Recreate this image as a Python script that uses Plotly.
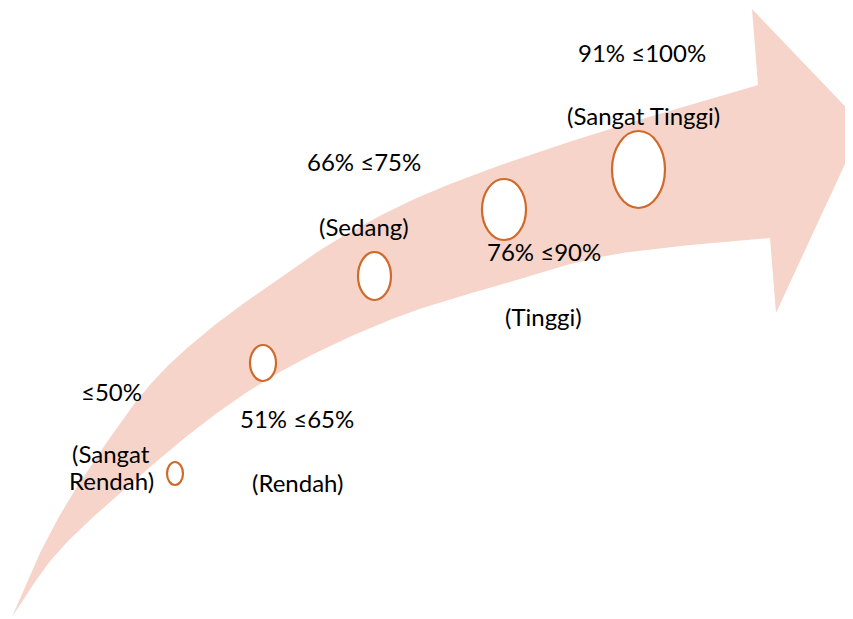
import numpy as np
import plotly.graph_objects as go

# ---- data ----
levels = ["(Sangat Rendah)", "(Rendah)", "(Sedang)", "(Tinggi)", "(Sangat Tinggi)"]
ranges = ["≤50%", "51% ≤65%", "66% ≤75%", "76% ≤90%", "91% ≤100%"]

# ---- layout geometry (pixel space of the 853x619 window) ----
W, H = 853, 619
OFF = 8  # page body margin of the browser
circ_cx = [175, 263, 374.5, 504, 638.5]
circ_cy = [473.5, 363, 276, 209.5, 169.5]
circ_w = [16, 26, 33, 44, 53]
circ_h = [23, 36, 48, 61, 77]

range_xy = [(111, 391), (297, 418), (364, 161), (544, 251), (642, 52)]
# each level label may wrap onto several lines -> list of (x, y) per line
level_lines = [[(111, 453), (111, 480)], [(297, 482)], [(364, 226)], [(543, 316)], [(643, 115)]]

upper_edge = [(12, 617), (40, 553), (77, 487), (143, 393), (200, 337), (267, 287),
              (350, 232), (450, 184), (600, 132), (758, 85)]
lower_edge = [(12, 617), (57, 553), (127, 487), (217, 413), (300, 361), (400, 316),
              (500, 285), (600, 257), (700, 244), (770, 238)]
head = [(758, 85), (752, 9), (863, 125), (776, 313), (770, 238)]


def catmull(pts, n=24):
    p = np.array(pts, dtype=float)
    p = np.vstack([2 * p[0] - p[1], p, 2 * p[-1] - p[-2]])
    out = []
    for i in range(1, len(p) - 2):
        p0, p1, p2, p3 = p[i - 1], p[i], p[i + 1], p[i + 2]
        for t in np.linspace(0, 1, n, endpoint=False):
            t2, t3 = t * t, t * t * t
            out.append(0.5 * ((2 * p1) + (-p0 + p2) * t + (2 * p0 - 5 * p1 + 4 * p2 - p3) * t2
                              + (-p0 + 3 * p1 - 3 * p2 + p3) * t3))
    out.append(p[-2])
    return np.array(out)


up = catmull(upper_edge)
lo = catmull(lower_edge)
poly = np.vstack([up, np.array(head[1:4]), lo[::-1]])

fig = go.Figure()
fig.add_trace(go.Scatter(x=poly[:, 0], y=poly[:, 1], fill="toself", mode="lines",
                         line=dict(width=0, color="#F6D4CA"), fillcolor="#F6D4CA",
                         hoverinfo="skip", showlegend=False))

shapes = []
for cx, cy, w, h in zip(circ_cx, circ_cy, circ_w, circ_h):
    shapes.append(dict(type="circle", xref="x", yref="y",
                       x0=cx - w / 2, x1=cx + w / 2, y0=cy - h / 2, y1=cy + h / 2,
                       line=dict(color="#D0692A", width=2.2), fillcolor="white"))

font = dict(family="Lato, Carlito, 'Open Sans', sans-serif", size=24, color="black")
annotations = []
for txt, (x, y) in zip(ranges, range_xy):
    annotations.append(dict(x=x, y=y, xref="x", yref="y", text=txt, showarrow=False,
                            font=font, xanchor="center", yanchor="middle"))
for txt, lines in zip(levels, level_lines):
    parts = txt.split(" ", len(lines) - 1) if len(lines) > 1 else [txt]
    for part, (x, y) in zip(parts, lines):
        annotations.append(dict(x=x, y=y, xref="x", yref="y", text=part, showarrow=False,
                                font=font, xanchor="center", yanchor="middle"))

fig.update_layout(
    width=W - OFF, height=H - OFF, margin=dict(l=0, r=0, t=0, b=0),
    paper_bgcolor="white", plot_bgcolor="white",
    xaxis=dict(range=[OFF, W], visible=False, fixedrange=True),
    yaxis=dict(range=[H, OFF], visible=False, fixedrange=True),
    shapes=shapes, annotations=annotations, showlegend=False,
)
fig.write_html("out.html")
